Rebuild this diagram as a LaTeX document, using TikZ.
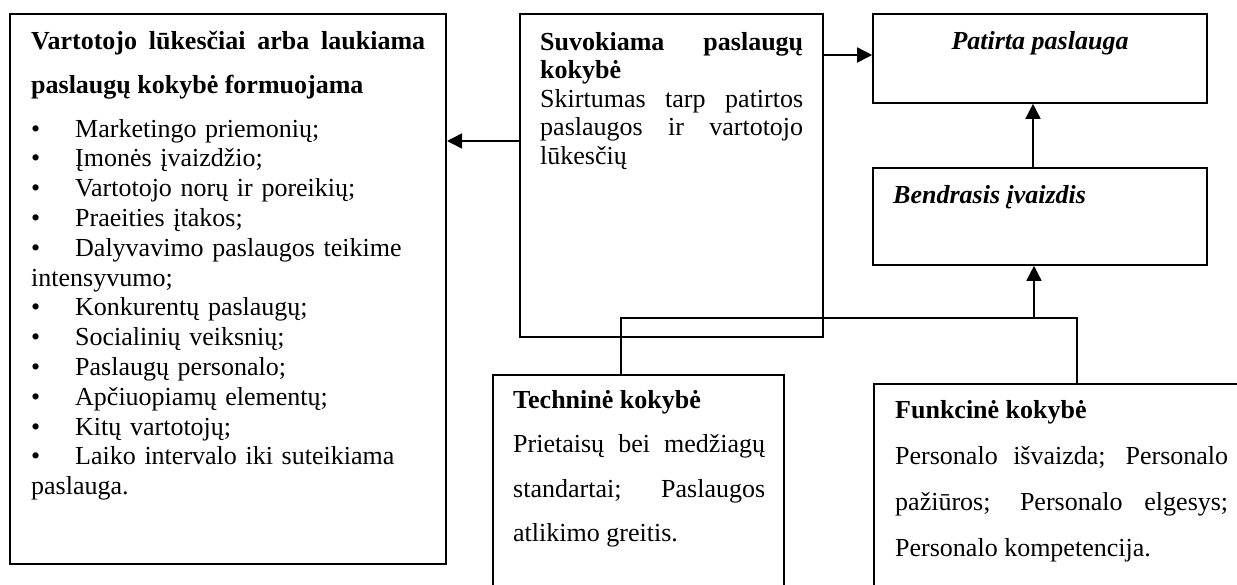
\documentclass[tikz,border=0pt]{standalone}
\usepackage{fontspec}
\setmainfont{Liberation Serif}
\usetikzlibrary{arrows.meta}
\tikzset{
  box/.style={draw, line width=1.6pt, inner sep=0pt, rectangle},
  txt/.style={inner sep=0pt, anchor=base west},
  conn/.style={line width=1.5pt},
  arr/.style={line width=1.5pt, -{Triangle[length=15pt,width=15pt]}},
}
\newcommand{\bsz}[1]{\fontsize{26}{#1}\selectfont}
\newcommand{\bul}{\makebox[44pt][l]{•}}
\begin{document}
\begin{tikzpicture}[x=1pt,y=-1pt]
\useasboundingbox (0,0) rectangle (1237,584);
\clip (0,0) rectangle (1237,584);
% boxes
\node[box, line width=2pt, minimum width=436pt, minimum height=550pt] (left) at (228,289) {};
\node[box, minimum width=303pt, minimum height=323pt] (mid) at (671.5,175.5) {};
\node[box, minimum width=334pt, minimum height=89pt] (pat) at (1040,58.5) {};
\node[box, minimum width=334pt, minimum height=97pt] (bend) at (1040,216.5) {};
\node[box, minimum width=291pt, minimum height=245pt] (tech) at (638.5,497.5) {};
\node[box, minimum width=386pt, minimum height=236pt] (funk) at (1067,502) {};
% texts
\node[txt, text width=394pt, align=justify, font={\bsz{44}\bfseries}] (lefttitle) at (31,49)
  {Vartotojo lūkesčiai arba laukiama\linebreak paslaugų kokybė formuojama};
\node[txt, text width=405pt, align=left, font={\bsz{29.8}}] (leftlist) at (31,137)
  {\bul Marketingo priemonių;\\
   \bul Įmonės įvaizdžio;\\
   \bul Vartotojo norų ir poreikių;\\
   \bul Praeities įtakos;\\
   \bul Dalyvavimo paslaugos teikime\\
   intensyvumo;\\
   \bul Konkurentų paslaugų;\\
   \bul Socialinių veiksnių;\\
   \bul Paslaugų personalo;\\
   \bul Apčiuopiamų elementų;\\
   \bul Kitų vartotojų;\\
   \bul Laiko intervalo iki suteikiama\\
   paslauga.};
\node[txt, text width=263pt, align=justify, font={\bsz{28.5}}] (midtext) at (540,50)
  {\textbf{Suvokiama paslaugų\linebreak kokybė}\\
   Skirtumas tarp patirtos\linebreak paslaugos ir vartotojo\linebreak lūkesčių};
\node[txt, anchor=base, font={\bsz{30}\bfseries\itshape}] (pattext) at (1040,49) {Patirta paslauga};
\node[txt, font={\bsz{30}\bfseries\itshape}] (bendtext) at (893,203) {Bendrasis įvaizdis};
\node[txt, text width=252pt, align=justify, font={\bsz{44.5}}] (techtext) at (513,408)
  {\textbf{Techninė kokybė}\\
   Prietaisų bei medžiagų\linebreak standartai; Paslaugos\linebreak atlikimo greitis.};
\node[txt, text width=333pt, align=justify, font={\bsz{46}}] (funktext) at (895,418)
  {\textbf{Funkcinė kokybė}\\
   Personalo išvaizda; Personalo\linebreak pažiūros; Personalo elgesys;\linebreak Personalo kompetencija.};
% connectors
\coordinate (a1) at (0,141);
\coordinate (a2) at (0,55);
\coordinate (a3) at (1033,0);
\coordinate (tj) at (621,318);
\coordinate (aj) at (1034,318);
\coordinate (fj) at (1077,318);
\draw[arr] (mid.west |- a1) -- (left.east |- a1);
\draw[arr] (mid.east |- a2) -- (pat.west |- a2);
\draw[arr] (a3 |- bend.north) -- (a3 |- pat.south);
\draw[conn] (tj |- tech.north) -- (tj) -- (fj) -- (fj |- funk.north);
\draw[arr] (aj) -- (aj |- bend.south);
\end{tikzpicture}
\end{document}
